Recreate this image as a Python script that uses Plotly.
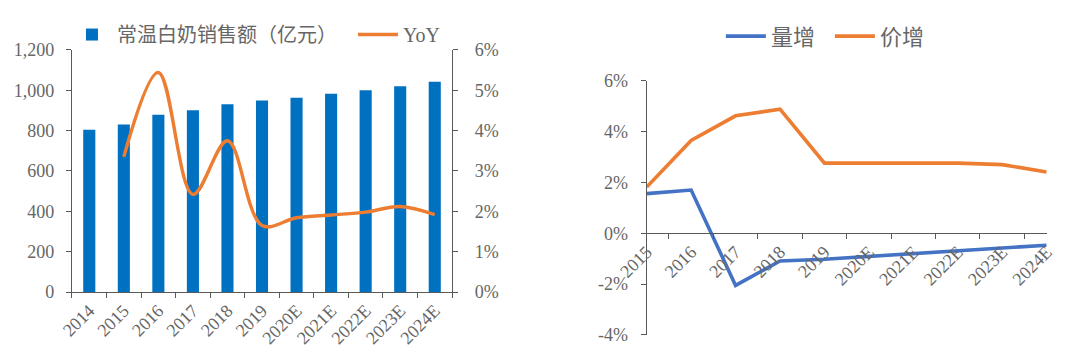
import plotly.graph_objects as go

# ---- data ----
years_left = ["2014", "2015", "2016", "2017", "2018", "2019", "2020E", "2021E", "2022E", "2023E", "2024E"]
sales = [805, 831, 879, 901, 931, 949, 963, 983, 1000, 1020, 1043]
yoy_years = ["2015", "2016", "2017", "2018", "2019", "2020E", "2021E", "2022E", "2023E", "2024E"]
yoy = [3.35, 5.44, 2.42, 3.75, 1.65, 1.84, 1.91, 1.98, 2.12, 1.92]

years_right = ["2015", "2016", "2017", "2018", "2019", "2020E", "2021E", "2022E", "2023E", "2024E"]
volume_growth = [1.56, 1.70, -2.05, -1.09, -1.02, -0.91, -0.79, -0.67, -0.59, -0.47]
price_growth = [1.82, 3.65, 4.62, 4.88, 2.76, 2.76, 2.76, 2.76, 2.70, 2.41]

right_tick_vals = [-4, -2, 0, 2, 4, 6]
right_tick_text = ["-4%", "-2%", "0%", "2%", "4%", "6%"]

FONT = "Liberation Serif, Noto Sans CJK SC, serif"
GREY = "#666666"
AX = "#595959"
tickfont = dict(family=FONT, size=18, color=GREY)

fig = go.Figure()
fig.add_trace(go.Bar(x=years_left, y=sales, name="常温白奶销售额（亿元）",
                     marker=dict(color="#0070C0", line=dict(width=0)),
                     xaxis="x", yaxis="y", legend="legend"))
fig.add_trace(go.Scatter(x=yoy_years, y=yoy, name="YoY", mode="lines",
                         line=dict(color="#ED7D31", width=3.4, shape="spline", smoothing=1.0),
                         xaxis="x", yaxis="y3", legend="legend"))
fig.add_trace(go.Scatter(x=years_right, y=volume_growth, name="量增", mode="lines",
                         line=dict(color="#4472C4", width=3.6),
                         xaxis="x2", yaxis="y2", legend="legend2"))
fig.add_trace(go.Scatter(x=years_right, y=price_growth, name="价增", mode="lines",
                         line=dict(color="#ED7D31", width=3.6),
                         xaxis="x2", yaxis="y2", legend="legend2"))

common_axis = dict(showline=True, linecolor=AX, linewidth=1.2, ticks="outside", ticklen=5,
                   tickcolor=AX, showgrid=False, zeroline=False, tickfont=tickfont)

fig.update_layout(
    width=1072, height=354,
    margin=dict(l=0, r=0, t=0, b=0),
    paper_bgcolor="white", plot_bgcolor="white",
    bargap=0.65,
    xaxis=dict(domain=[0.0597, 0.4142], anchor="y", type="category", tickson="boundaries",
               tickangle=-45, automargin=False, **common_axis),
    yaxis=dict(domain=[0.1977, 0.8814], anchor="x", range=[0, 1200], dtick=200,
               tickformat=",", automargin=False, ticklabelstandoff=8, **common_axis),
    yaxis3=dict(overlaying="y", side="right", anchor="x", range=[0, 6], dtick=1,
                ticksuffix="%", automargin=False, ticklabelstandoff=13, **common_axis),
    xaxis2=dict(domain=[0.5958, 0.9689], anchor="free", position=0.3636, type="category",
                tickson="boundaries", tickangle=-45, automargin=False, **common_axis),
    yaxis2=dict(domain=[0.0763, 0.7946], anchor="x2", range=[-4, 6],
                tickvals=right_tick_vals, ticktext=right_tick_text,
                automargin=False, ticklabelstandoff=9, **common_axis),
    legend=dict(orientation="h", x=0.055, y=0.925, xanchor="left", yanchor="middle",
                font=dict(family=FONT, size=20, color=GREY), itemwidth=40,
                entrywidth=231, bgcolor="rgba(0,0,0,0)"),
    legend2=dict(orientation="h", x=0.665, y=0.92, xanchor="left", yanchor="middle",
                 font=dict(family=FONT, size=22, color=GREY), itemwidth=40,
                 entrywidth=54, bgcolor="rgba(0,0,0,0)"),
)

fig.write_html("out.html")
